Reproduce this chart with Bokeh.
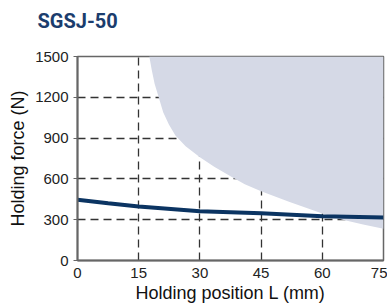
from bokeh.plotting import figure
from bokeh.embed import file_html
from bokeh.resources import INLINE
from bokeh.models import FixedTicker, Range1d, Title

title_text = "SGSJ-50"
x_ticks = [0, 15, 30, 45, 60, 75]
y_ticks = [0, 300, 600, 900, 1200, 1500]

# Boundary of shaded region (holding position, holding force)
area_x = [17.6, 18.2, 18.9, 19.9, 21.0, 22.4, 24.0, 26.5, 30.0, 33.5, 37.5, 41.0, 45.0, 52.0, 60.0, 65.0, 70.0, 75.0]
area_y = [1500, 1400, 1300, 1200, 1090, 1000, 920, 840, 760, 690, 620, 560, 510, 430, 345, 300, 265, 233]

# Holding force curve
curve_x = [0, 7.5, 15, 30, 45, 60, 75]
curve_y = [446, 421, 397, 363, 348, 326, 316]

p = figure(width=387, height=306,
           output_backend="svg", toolbar_location=None,
           x_range=Range1d(0, 75), y_range=Range1d(0, 1500),
           min_border_left=77, min_border_top=56, min_border_right=4, min_border_bottom=46)

# spacer between title and plot frame
p.add_layout(Title(text=" ", text_font_size="10px", standoff=1), "above")

p.title.text = title_text
p.title.align = "left"
p.title.offset = -40
p.title.vertical_align = "top"
p.title.standoff = 15
p.title.text_font = "Roboto"
p.title.text_font_style = "bold"
p.title.text_font_size = "20px"
p.title.text_color = "#1b3d6d"

poly_x = area_x + [75]
poly_y = area_y + [1500]
p.patch(poly_x, poly_y, fill_color="#d5d9e6", line_color=None)

p.line(curve_x, curve_y, line_color="#0b3462", line_width=4)

for ax in (p.xaxis, p.yaxis):
    ax.axis_line_color = "#666666"
    ax.axis_line_width = 2
    ax.minor_tick_line_color = None
    ax.major_label_text_font = "Liberation Sans"
    ax.major_label_text_font_size = "15px"
    ax.major_label_text_color = "#222222"
    ax.axis_label_text_font = "Liberation Sans"
    ax.axis_label_text_font_size = "18px"
    ax.axis_label_text_font_style = "normal"
    ax.axis_label_text_color = "#111111"

p.xaxis.ticker = FixedTicker(ticks=x_ticks)
p.yaxis.ticker = FixedTicker(ticks=y_ticks)
p.xaxis.major_tick_line_color = None
p.yaxis.major_tick_out = 4
p.yaxis.major_tick_in = 0
p.yaxis.major_tick_line_color = "#666666"
p.xaxis.major_label_standoff = 1
p.yaxis.major_label_standoff = 5
p.xaxis.axis_label = "Holding position L (mm)"
p.yaxis.axis_label = "Holding force (N)"
p.xaxis.axis_label_standoff = 2
p.yaxis.axis_label_standoff = 4

p.grid.grid_line_color = "#333333"
p.grid.grid_line_dash = "8 5"
p.grid.grid_line_width = 1.3

p.outline_line_color = "#666666"
p.outline_line_width = 1.5
p.background_fill_color = "white"
p.border_fill_color = "white"

open("out.html", "w").write(file_html(p, INLINE))
